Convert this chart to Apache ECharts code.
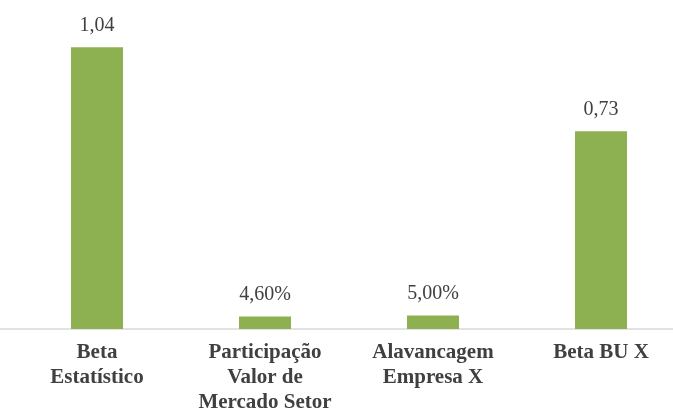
<!DOCTYPE html>
<html>
<head>
<meta charset="utf-8">
<script src="https://cdn.jsdelivr.net/npm/echarts@6/dist/echarts.min.js"></script>
<style>
  html, body { margin: 0; padding: 0; background: #ffffff; overflow: hidden; }
  #chart { width: 673px; height: 413px; }
</style>
</head>
<body>
<div id="chart"></div>
<script>
// Categories and values of the beta build-up
const categories = ['Beta\nEstatístico', 'Participação\nValor de\nMercado Setor', 'Alavancagem\nEmpresa X', 'Beta BU X'];
const values = [1.04, 0.046, 0.05, 0.73];
const valueLabels = ['1,04', '4,60%', '5,00%', '0,73'];

const chart = echarts.init(document.getElementById('chart'));

chart.setOption({
  animation: false,
  backgroundColor: '#ffffff',
  grid: { left: 13, width: 672, top: 4, bottom: 84, containLabel: false, outerBoundsMode: 'none' },
  xAxis: {
    type: 'category',
    data: categories,
    axisLine: { show: true, lineStyle: { color: '#d9d9d9', width: 1.5 } },
    axisTick: { show: false },
    axisLabel: {
      interval: 0,
      margin: 11,
      fontFamily: 'Liberation Serif',
      fontWeight: 'bold',
      fontSize: 21,
      lineHeight: 25,
      color: '#404040'
    }
  },
  yAxis: {
    type: 'value',
    min: 0,
    max: 1.2,
    show: false,
    splitLine: { show: false }
  },
  series: [{
    type: 'bar',
    data: values,
    barWidth: 52,
    itemStyle: { color: '#8db150' },
    label: {
      show: true,
      position: 'top',
      distance: 12,
      fontFamily: 'Liberation Serif',
      fontSize: 20,
      color: '#404040',
      formatter: p => valueLabels[p.dataIndex]
    }
  }],
  graphic: [{
    type: 'line',
    shape: { x1: 0, y1: 329, x2: 13, y2: 329 },
    style: { stroke: '#d9d9d9', lineWidth: 1.5 }
  }]
});
</script>
</body>
</html>
